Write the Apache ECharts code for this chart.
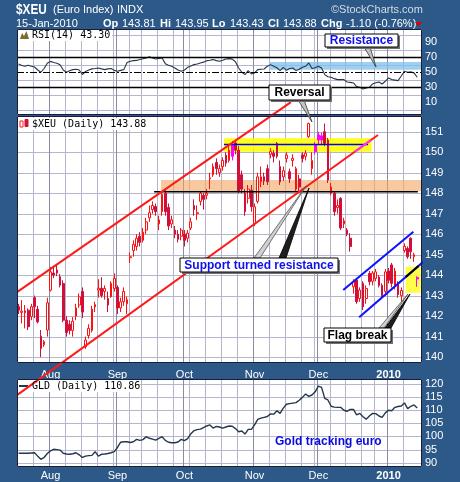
<!DOCTYPE html>
<html><head><meta charset="utf-8"><title>$XEU</title>
<script src="https://cdn.jsdelivr.net/npm/echarts@6.0.0/dist/echarts.min.js"></script>
<style>html,body{margin:0;padding:0;background:#2c5987;}#chart{width:460px;height:482px;}</style>
</head><body><div id="chart"></div>
<script>
// ---------- categories (trading days) ----------
const holidays = ['2009-09-07', '2009-11-26', '2009-12-25', '2010-01-01'];
function buildTradingDays() {
  const out = [];
  const d = new Date(Date.UTC(2009, 6, 20));
  const end = Date.UTC(2010, 0, 15);
  while (d.getTime() <= end) {
    const dow = d.getUTCDay();
    const s = d.toISOString().slice(0, 10);
    if (dow >= 1 && dow <= 5 && holidays.indexOf(s) < 0) out.push(s);
    d.setUTCDate(d.getUTCDate() + 1);
  }
  return out;
}
const tradingDays = buildTradingDays();
const categories = tradingDays.concat(['']);
const monthNames = ['Jan','Feb','Mar','Apr','May','Jun','Jul','Aug','Sep','Oct','Nov','Dec'];

// ---------- $XEU daily OHLC ----------
const xeuOpen = [142.46,142.18,142.16,142.29,141.97,142.90,142.33,141.02,140.60,141.32,
143.27,144.10,144.25,143.92,143.59,141.80,141.60,141.30,142.00,142.54,
143.20,140.50,141.05,141.30,142.45,143.27,143.36,143.20,142.86,142.94,
143.35,143.40,142.40,142.70,142.60,144.85,145.20,145.40,145.90,145.70,
146.20,146.80,147.20,147.35,146.50,147.10,148.00,147.30,146.50,146.20,
146.00,145.90,146.00,145.80,146.30,147.40,147.00,147.60,147.90,147.90,
148.70,148.90,149.50,149.00,149.30,149.86,149.60,149.80,150.45,150.10,
148.90,148.00,147.75,148.15,146.50,147.60,148.56,148.80,149.20,149.90,
149.95,150.43,149.30,148.80,149.70,149.05,149.60,148.20,148.70,149.86,
149.80,150.76,149.20,150.03,150.60,150.60,151.00,150.60,148.00,148.00,
147.30,147.75,146.50,146.20,145.80,143.43,143.76,142.86,143.60,142.86,
144.08,143.70,143.84,143.90,143.50,143.20,144.20,144.50,143.50,143.60,
143.00,145.20,145.30,145.80,144.90,143.81];
const xeuClose = [142.29,142.24,142.26,141.48,142.46,142.46,141.72,140.42,140.75,142.65,
144.16,144.00,144.10,143.51,141.80,141.20,141.30,141.75,142.40,142.94,
142.20,140.83,141.40,142.34,142.56,143.36,143.00,143.35,142.54,143.60,
143.84,142.40,142.70,143.20,142.80,144.90,145.50,145.80,145.60,146.10,
146.60,147.05,147.40,147.10,146.70,147.95,147.10,146.40,146.70,146.00,
145.75,146.20,145.70,146.05,146.60,147.20,147.05,148.00,147.70,148.00,
148.75,149.30,149.20,149.20,149.60,149.47,150.10,150.40,150.10,148.10,
148.20,147.10,148.20,147.34,147.34,148.80,148.80,148.60,148.56,150.03,
149.80,149.80,148.56,149.10,149.86,148.70,149.70,149.20,148.30,149.70,
149.95,151.40,149.60,150.35,150.84,150.80,150.43,148.64,148.30,147.10,
147.40,146.30,146.65,146.00,145.40,143.68,142.70,143.27,142.46,143.35,
143.68,144.10,144.16,143.50,143.00,144.16,143.75,143.60,144.20,143.05,
143.25,145.40,144.90,145.14,145.00,143.88];
const xeuLow = [142.10,141.64,141.40,141.32,141.80,141.90,141.64,140.00,140.50,141.00,
143.20,143.85,143.95,143.40,141.70,141.00,141.10,141.00,141.80,142.40,
141.90,140.40,140.90,141.20,142.20,142.90,142.90,142.80,142.20,142.90,
143.20,142.10,142.20,142.50,142.10,144.60,144.90,145.20,145.40,145.60,
146.00,146.60,147.00,146.90,146.20,146.90,146.90,146.20,146.30,145.80,
145.60,145.70,145.40,145.60,146.20,146.90,146.70,147.40,147.20,147.70,
148.20,148.80,148.90,148.80,149.10,149.30,149.50,149.60,149.90,148.00,
148.00,146.90,147.50,147.10,146.40,147.50,148.30,148.40,148.40,149.70,
149.50,149.70,148.40,148.60,149.50,148.50,149.30,148.10,148.10,149.50,
149.60,150.70,148.90,149.90,150.40,150.40,150.30,148.50,147.90,146.90,
147.00,146.20,146.30,145.90,145.15,143.10,142.60,142.70,142.30,142.60,
143.50,143.50,143.70,143.40,142.90,143.00,143.60,143.40,143.30,142.90,
142.70,145.10,144.80,144.80,144.65,143.43];
const xeuHigh = [142.60,142.78,142.54,142.38,142.60,143.00,142.50,141.32,140.83,142.90,
144.40,144.45,144.50,144.05,143.75,142.00,141.80,141.95,142.60,143.10,
143.40,141.00,141.60,142.50,142.70,143.80,143.90,143.50,143.20,143.70,
144.08,143.50,142.90,143.40,142.95,145.10,145.70,146.00,146.10,146.30,
146.80,147.40,147.60,147.50,146.90,148.10,148.15,147.50,146.90,146.40,
146.20,146.30,146.20,146.20,146.80,147.70,147.40,148.10,148.00,148.20,
149.00,149.45,149.70,149.40,149.75,150.00,150.40,150.55,150.60,150.30,
149.10,148.20,148.40,148.40,147.50,149.00,149.30,149.00,149.40,150.20,
150.10,150.50,149.60,149.30,150.00,149.20,149.90,149.30,148.90,150.00,
150.10,151.45,150.00,150.50,151.00,150.95,151.40,150.70,148.50,148.10,
147.70,147.80,146.80,146.30,146.05,143.80,143.85,143.40,143.70,143.50,
144.20,144.20,144.30,144.00,143.60,144.30,144.35,144.60,144.35,143.70,
143.40,145.55,145.40,145.85,145.10,143.95];
const highlightDays = [67, 93, 94, 95, 125];

// ---------- RSI(14) ----------
const rsiValues = [61,59,58,59.3,58,57,53,50,55,62,
64.5,63,62,60,53,50,52,53.5,54,53,
47,51,53,54.5,55,55.7,54.5,53.5,54.5,55,
52.5,51.3,52.5,53.5,63,64.6,65.5,65.8,66.9,68,
69.1,70.8,69,67.7,68.5,69.1,61.5,59.3,58,55.7,
53,51.3,53,56.6,58.5,60.2,61,62.4,63.5,65.5,
66,66.9,65.5,64.6,66,67.7,68.2,67.5,64,55.7,
50,46.9,52.2,47.7,49.1,53.5,54,54.4,58,60.2,
58,56,52.2,56.6,52.6,55,55.7,52.2,54,56.6,
58,62.4,54.9,56,58,55.7,46.9,44,43.3,41.5,
40.2,40.2,40.2,37.1,36.5,35.7,31,30,27.7,29,
30,34.4,36,37.1,34.4,38,42.4,40.2,39.5,38.8,
45,51.3,50,50.5,49.1,43.3];
const rsiLabelValues = [10, 30, 50, 70, 90];
const rsiRefLevels = [70, 50, 30];

// ---------- GLD daily close ----------
const gldValues = [93.6,93.6,93.6,93.6,93.7,93.8,92.5,91.3,92.0,93.5,
94.5,95.1,95.0,94.8,93.6,93.3,93.2,93.4,93.8,93.0,
92.0,92.5,92.7,92.8,94.2,92.5,93.2,93.3,93.5,93.8,
94.2,95.8,97.8,98.0,98.0,97.7,98.0,98.9,98.5,98.8,
99.9,99.3,99.0,98.6,99.3,99.9,98.5,97.8,97.6,97.6,
97.9,98.9,98.4,99.2,101.0,102.2,102.6,102.8,103.4,104.0,
104.4,103.2,103.8,103.6,103.2,103.6,104.0,103.9,103.0,101.8,
102.1,100.9,102.7,102.7,104.4,106.5,107.0,107.3,107.6,108.6,
108.5,109.8,108.8,110.8,112.3,112.5,112.7,112.9,113.8,114.9,
116.2,115.3,115.8,117.0,119.2,118.7,114.5,113.9,111.5,111.2,
111.1,111.1,110.0,109.6,110.3,110.3,108.2,108.8,107.5,106.6,
107.8,108.8,108.7,107.8,107.3,109.0,110.0,109.8,111.1,111.4,
111.6,112.8,110.6,111.5,112.0,110.86];

// ---------- annotations (day index, value) ----------
const upperChannel = [[-0.5, 143.17], [85.4, 152.45]];
const lowerChannel = [[-0.5, 138.14], [112.7, 150.84]];
const lowerChannelInBand = [[105.4, 150.02], [110.4, 150.58]];
const supportLine = [[42.5, 148.07], [125.2, 148.07]];
const resistanceLine = [[64.4, 150.38], [109.6, 150.38]];
const orangeZone = [44.65, 126.5, 148.10, 148.64];
const yellowZone = [64.4, 110.7, 150.02, 150.68];
const flagBreakZone = [121.4, 126.1, 143.14, 144.41];
const upperFlag = [[101.8, 143.27], [123.8, 146.12]];
const lowerFlag = [[106.8, 141.94], [126.9, 144.65]];
const lowerFlagInBox = [[121.4, 143.91], [125.4, 144.45]];
const rsiResistanceZone = [78.8, 126.5, 53.5, 63.7];

// ---------- helpers ----------
const weekStartIdx = [];
const monthStart = categories.map((c, i) => {
  if (i === 0 || !c) return false;
  return c.slice(5, 7) !== categories[i - 1].slice(5, 7);
});
categories.forEach((c, i) => {
  if (i === 0 || !c) return;
  if (new Date(c).getUTCDay() <= new Date(categories[i - 1]).getUTCDay()) weekStartIdx.push(i);
});
const FONT = '"Liberation Sans", Arial, sans-serif';
const GRIDC = '#b6b6ca';
const MONTHC = '#8a8aa0';

const gridDefs = [
  { left: 17, top: 29, width: 405, height: 86 },
  { left: 17, top: 116, width: 405, height: 247 },
  { left: 17, top: 379, width: 405, height: 88 }
];
const grids = gridDefs.map(g => Object.assign({ show: false }, g));

const xAxes = [];
gridDefs.forEach((g, gi) => {
  xAxes.push({
    type: 'category', gridIndex: gi, data: categories, boundaryGap: true, position: 'bottom', z: 1,
    axisLine: { show: false }, axisTick: { show: false },
    axisLabel: gi === 0 ? { show: false } : {
      show: true, interval: (i) => monthStart[i], color: '#ffffff', fontSize: 11, fontFamily: FONT,
      margin: gi === 1 ? 6 : 3,
      formatter: (v) => { const m = +v.slice(5, 7); return m === 1 ? '{b|' + v.slice(0, 4) + '}' : monthNames[m - 1]; },
      rich: { b: { fontWeight: 'bold', color: '#ffffff', fontSize: 11, fontFamily: FONT } }
    },
    splitLine: { show: false }
  });
  xAxes.push({ type: 'value', gridIndex: gi, position: 'top', min: -0.5, max: categories.length - 0.5, show: false });
});

const axisLabelStyle = { color: '#ffffff', fontSize: 11, fontFamily: FONT, margin: 3 };
const yAxes = [
  { type: 'value', gridIndex: 0, position: 'right', min: -7, max: 107.7, splitNumber: 5, minInterval: 20, maxInterval: 20,
    axisLine: { show: false }, axisTick: { show: false }, axisLabel: { show: false }, splitLine: { show: false } },
  { type: 'value', gridIndex: 0, position: 'right', min: -7, max: 107.7,
    axisLine: { show: false }, axisTick: { show: false }, splitLine: { show: false },
    axisLabel: Object.assign({ customValues: rsiLabelValues }, axisLabelStyle) },
  { type: 'value', gridIndex: 1, position: 'right', min: 139.71, max: 151.77, splitNumber: 12, minInterval: 1, maxInterval: 1,
    axisLine: { show: false }, axisTick: { show: false }, splitLine: { show: false },
    axisLabel: Object.assign({ formatter: (v) => Math.abs(v - Math.round(v)) < 1e-6 ? String(Math.round(v)) : '' }, axisLabelStyle) },
  { type: 'value', gridIndex: 2, position: 'right', min: 88.36, max: 121.9, splitNumber: 7, minInterval: 5, maxInterval: 5,
    axisLine: { show: false }, axisTick: { show: false }, splitLine: { show: false },
    axisLabel: Object.assign({ formatter: (v) => Math.abs(v / 5 - Math.round(v / 5)) < 1e-6 ? String(Math.round(v)) : '' }, axisLabelStyle) }
];

// grid lines drawn as a custom series through each panel's own scales
const rsiGridValues = [0, 20, 40, 60, 80, 100];
const priceGridValues = [140, 141, 142, 143, 144, 145, 146, 147, 148, 149, 150, 151];
const gldGridValues = [90, 95, 100, 105, 110, 115, 120];
function gridLines(xIdx, yIdx, hValues, yMid) {
  const items = [];
  hValues.forEach(v => items.push([2, 0, v]));
  weekStartIdx.forEach(i => { if (!monthStart[i]) items.push([0, i - 0.5, yMid]); });
  categories.forEach((c, i) => { if (monthStart[i]) items.push([1, i - 0.5, yMid]); });
  return {
    type: 'custom', xAxisIndex: xIdx, yAxisIndex: yIdx, z: 1, silent: true,
    data: items, encode: { x: 1, y: 2 },
    renderItem: (params, api) => {
      const cs = params.coordSys;
      const kind = api.value(0);
      const p = api.coord([api.value(1), api.value(2)]);
      if (kind === 2) {
        const y = Math.round(p[1]) + 0.5;
        return { type: 'line', shape: { x1: cs.x, y1: y, x2: cs.x + cs.width, y2: y }, style: { stroke: GRIDC, lineWidth: 1 } };
      }
      const x = Math.round(p[0]) + 0.5;
      return { type: 'line', shape: { x1: x, y1: cs.y, x2: x, y2: cs.y + cs.height }, style: { stroke: kind === 1 ? MONTHC : GRIDC, lineWidth: 1 } };
    }
  };
}
function zoneSeries(box, xIdx, yIdx, color, opacity, z) {
  return {
    type: 'custom', xAxisIndex: xIdx, yAxisIndex: yIdx, z: z, silent: true, clip: false,
    data: [box], encode: { x: [0, 1], y: [2, 3] },
    renderItem: (params, api) => {
      const a = api.coord([api.value(0), api.value(3)]);
      const b = api.coord([api.value(1), api.value(2)]);
      return { type: 'rect', shape: { x: a[0], y: a[1], width: b[0] - a[0], height: b[1] - a[1] }, style: { fill: color, opacity: opacity } };
    }
  };
}
function segSeries(pts, xIdx, yIdx, color, width, z) {
  return { type: 'line', xAxisIndex: xIdx, yAxisIndex: yIdx, data: pts, symbol: 'none', clip: false, z: z, silent: true,
    lineStyle: { color: color, width: width } };
}

const candleData = xeuOpen.map((o, i) => {
  const v = [o, xeuClose[i], xeuLow[i], xeuHigh[i]];
  if (highlightDays.indexOf(i) >= 0) {
    return { value: v, itemStyle: { color: '#ff00ff', color0: '#ff00ff', borderColor: '#ff00ff', borderColor0: '#ff00ff' } };
  }
  return v;
});

const series = [
  gridLines(1, 0, rsiGridValues, 50),
  gridLines(3, 2, priceGridValues, 145),
  gridLines(5, 3, gldGridValues, 100),
  zoneSeries(rsiResistanceZone, 1, 0, '#7fc0ee', 0.75, 2),
  { type: 'line', xAxisIndex: 0, yAxisIndex: 0, data: rsiValues, symbol: 'none', z: 3,
    lineStyle: { color: '#26364a', width: 1.1 },
    markLine: { silent: true, symbol: ['none', 'none'], label: { show: false },
      data: rsiRefLevels.map(v => ({ yAxis: v, lineStyle: v === 50 ? { color: '#000', width: 1, type: [7, 2, 2, 2] } : { color: '#000', width: 1.3, type: 'solid' } })) } },
  zoneSeries(orangeZone, 3, 2, '#f4a460', 0.6, 2),
  zoneSeries(yellowZone, 3, 2, '#ffff00', 0.9, 2),
  zoneSeries(flagBreakZone, 3, 2, '#ffff33', 0.9, 2),
  { type: 'candlestick', xAxisIndex: 2, yAxisIndex: 2, data: candleData, barWidth: 2.2, z: 3,
    itemStyle: { color: '#ffffff', color0: '#d0103a', borderColor: '#ff1010', borderColor0: '#d0103a', borderWidth: 1 } },
  segSeries(supportLine, 3, 2, '#000000', 1.5, 4),
  segSeries(resistanceLine, 3, 2, '#0000ff', 1.5, 4),
  segSeries(upperChannel, 3, 2, '#ff1a1a', 2, 8),
  segSeries(lowerChannel, 3, 2, '#ff1a1a', 2, 8),
  segSeries(lowerChannelInBand, 3, 2, '#ff33ff', 2, 8),
  segSeries(upperFlag, 3, 2, '#1010ff', 2, 8),
  segSeries(lowerFlag, 3, 2, '#1010ff', 2, 8),
  segSeries(lowerFlagInBox, 3, 2, '#000000', 2, 8),
  { type: 'line', xAxisIndex: 4, yAxisIndex: 3, data: gldValues, symbol: 'none', z: 3,
    lineStyle: { color: '#24374b', width: 1.4 } }
];

// ---------- graphics: panels, header, legends, callouts ----------
function txt(x, y, text, font, fill, extra) {
  return Object.assign({ type: 'text', x: x, y: y, z: 30, silent: true,
    style: { text: text, font: font, fill: fill, align: 'left', textAlign: 'left', verticalAlign: 'middle', textVerticalAlign: 'middle' } }, extra || {});
}
function callout(x, y, w, h, text, color) {
  return [
    { type: 'rect', z: 20, silent: true, shape: { x: x + 2, y: y + 2, width: w, height: h }, style: { fill: '#707070' } },
    { type: 'rect', z: 21, silent: true, shape: { x: x, y: y, width: w, height: h }, style: { fill: '#ffffff', stroke: '#000000', lineWidth: 1 } },
    { type: 'text', z: 22, silent: true, x: x + w / 2, y: y + h / 2 + 0.5,
      style: { text: text, fill: color, font: 'bold 12px ' + FONT, align: 'center', textAlign: 'center', verticalAlign: 'middle', textVerticalAlign: 'middle' } }
  ];
}
function tail(pts, fill, stroke) {
  return { type: 'polygon', z: 19, silent: true, shape: { points: pts }, style: { fill: fill, stroke: stroke, lineWidth: 0.8 } };
}
const panelBacks = gridDefs.map(g => ({ type: 'rect', z: -10, silent: true, shape: { x: g.left, y: g.top, width: g.width, height: g.height }, style: { fill: '#ffffff' } }));
const panelBorders = gridDefs.map(g => ({ type: 'rect', z: 9, silent: true, shape: { x: g.left + 0.5, y: g.top + 0.5, width: g.width - 1, height: g.height - 1 }, style: { fill: null, stroke: '#1b1b3a', lineWidth: 1 } }));
const hdr = '11px ' + FONT, hdrB = 'bold 11px ' + FONT;
const graphics = panelBacks.concat(panelBorders, [
  txt(16, 10, '$XEU', 'bold 14px ' + FONT, '#ffffff', { scaleX: 0.84 }),
  txt(53, 10, '(Euro Index)', hdr, '#ffffff'),
  txt(117, 10, 'INDX', hdr, '#ffffff'),
  txt(331, 10, '\u00a9StockCharts.com', hdr, '#d5dbe5'),
  txt(16, 24, '15-Jan-2010', hdr, '#ffffff'),
  txt(103, 24, 'Op', hdrB, '#ffffff'), txt(122, 24, '143.81', hdr, '#ffffff'),
  txt(160, 24, 'Hi', hdrB, '#ffffff'), txt(175, 24, '143.95', hdr, '#ffffff'),
  txt(212, 24, 'Lo', hdrB, '#ffffff'), txt(230, 24, '143.43', hdr, '#ffffff'),
  txt(268, 24, 'Cl', hdrB, '#ffffff'), txt(283, 24, '143.88', hdr, '#ffffff'),
  txt(321, 24, 'Chg', hdrB, '#ffffff'), txt(346, 24, '-1.10 (-0.76%)', hdr, '#ffffff'),
  { type: 'polygon', z: 30, silent: true, shape: { points: [[415, 22], [422, 22], [418.5, 26.5]] }, style: { fill: '#e00000' } },
  // legends
  { type: 'rect', z: 5, silent: true, shape: { x: 18, y: 30, width: 94, height: 11 }, style: { fill: '#ffffff' } },
  { type: 'polygon', z: 6, silent: true, shape: { points: [[20, 39], [22, 33], [24, 36], [26.5, 31], [29, 39]] }, style: { fill: '#7a6e2c' } },
  txt(32, 35.5, 'RSI(14) 43.30', '10px "DejaVu Sans Mono", monospace', '#000000'),
  { type: 'rect', z: 5, silent: true, shape: { x: 18, y: 118, width: 128, height: 12 }, style: { fill: '#ffffff' } },
  { type: 'rect', z: 6, silent: true, shape: { x: 20, y: 121, width: 3, height: 6 }, style: { fill: '#ffffff', stroke: '#ff1a1a', lineWidth: 1 } },
  { type: 'rect', z: 6, silent: true, shape: { x: 25, y: 119.5, width: 3, height: 7 }, style: { fill: '#d3123c', stroke: '#d3123c', lineWidth: 1 } },
  txt(32, 124, '$XEU (Daily) 143.88', '10px "DejaVu Sans Mono", monospace', '#000000'),
  { type: 'rect', z: 5, silent: true, shape: { x: 18, y: 380, width: 120, height: 12 }, style: { fill: '#ffffff' } },
  { type: 'line', z: 6, silent: true, shape: { x1: 19, y1: 386, x2: 28, y2: 386 }, style: { stroke: '#24374b', lineWidth: 2 } },
  txt(32, 386.5, 'GLD (Daily) 110.86', '10px "DejaVu Sans Mono", monospace', '#000000'),
  txt(275, 442, 'Gold tracking euro', 'bold 12px ' + FONT, '#0a0ae0'),
  // callout tails
  tail([[364, 47], [370, 47], [376, 67]], '#c4c4c4', '#333333'),
  tail([[298, 100], [304, 100], [312, 122]], '#c4c4c4', '#333333'),
  tail([[254, 258], [260, 258], [306, 186]], '#d0d0d0', '#555555'),
  tail([[279, 258], [286, 258], [309, 188]], '#1e1e1e', '#000000'),
  tail([[379, 328], [384, 328], [408, 294]], '#d0d0d0', '#555555'),
  tail([[385, 328], [391, 328], [410, 294]], '#1e1e1e', '#000000')
]).concat(
  callout(325, 34, 73, 13, 'Resistance', '#1010ee'),
  callout(269, 85, 61, 15, 'Reversal', '#000000'),
  callout(180, 258, 158, 14, 'Support turned resistance', '#1010ee'),
  callout(324, 328, 67, 14, 'Flag break', '#000000')
);

const chart = echarts.init(document.getElementById('chart'), null, { renderer: 'canvas' });
chart.setOption({
  animation: false,
  backgroundColor: '#2c5987',
  textStyle: { fontFamily: FONT },
  grid: grids,
  xAxis: xAxes,
  yAxis: yAxes,
  series: series,
  graphic: { elements: graphics }
});
</script>
</body></html>
